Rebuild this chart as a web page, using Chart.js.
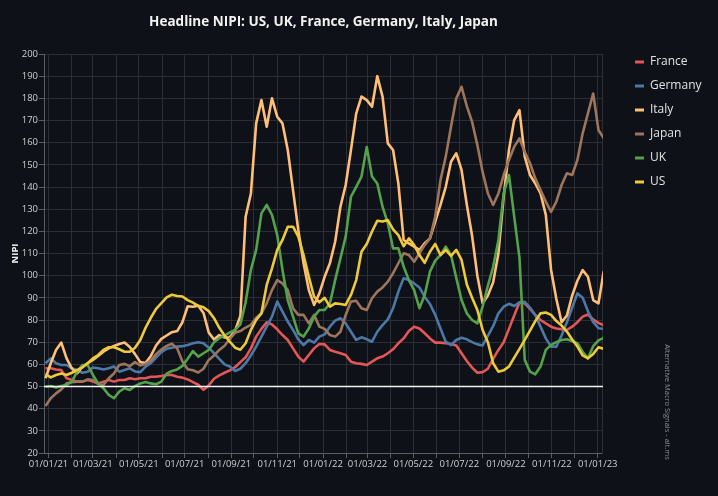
<!DOCTYPE html>
<html>
<head>
<meta charset="utf-8">
<title>Headline NIPI</title>
<script src="https://cdn.jsdelivr.net/npm/chart.js@4.4.1/dist/chart.umd.min.js"></script>
<style>
	html, body { margin: 0; padding: 0; background: #0e1117; }
	#wrap { width: 718px; height: 496px; }
</style>
</head>
<body>
<div id="wrap"><canvas id="nipiChart" width="718" height="496"></canvas></div>
<script>
	// weekly readings, first one on 28/12/20 (day -4 counted from 01/01/21)
	const firstDay = -4;
	const stepDays = 7;

	const seriesNames = ['France', 'Germany', 'Italy', 'Japan', 'UK', 'US'];
	const seriesColors = ['#e45756', '#4c78a8', '#ffbf79', '#9d755d', '#54a24b', '#eeca3b'];

	const france = [
		58.2, 58.2, 57.7, 57.4, 53.7, 52.9, 52.2, 52.2, 52.9, 52.2, 51.4, 52.2, 52.9, 52.2, 52.9, 52.9, 53.7, 53.3, 53.7, 53.7, 54.4, 54.4, 54.7, 55.2, 55.2, 54.4, 54.0, 53.2,
		52.0, 50.8, 48.5, 50.5, 53.5, 55.0, 56.2, 57.3, 58.7, 61.0, 63.2, 67.2, 72.5, 76.0, 79.0, 78.0, 75.8, 73.2, 71.0, 67.2, 63.5, 61.2, 64.2, 67.2, 69.2, 69.0,
		66.5, 65.7, 65.0, 64.2, 61.2, 60.5, 60.2, 59.7, 61.2, 62.7, 63.5, 65.0, 66.8, 69.5, 71.7, 75.0, 77.0, 76.2, 74.0, 71.7, 69.8, 69.8, 69.5, 69.2, 68.5, 65.0, 61.5,
		58.5, 56.2, 56.5, 58.0, 62.5, 66.5, 70.0, 76.0, 82.0, 88.0, 87.5, 85.0, 82.3, 80.0, 78.5, 77.0, 76.2, 75.8, 75.5, 77.0, 79.0, 81.5, 82.5, 80.2, 78.7, 77.6
	];
	const germany = [
		60.5, 62.7, 60.5, 59.7, 59.7, 58.2, 57.4, 56.2, 56.7, 58.6, 58.2, 57.7, 58.2, 59.0, 56.7, 57.4, 58.2, 56.8, 56.5, 59.0, 60.5, 63.0, 65.5, 67.0, 67.5, 68.0, 68.2, 68.7,
		69.5, 70.0, 69.5, 67.5, 65.0, 62.5, 60.0, 59.0, 57.0, 58.0, 60.5, 64.0, 68.0, 72.5, 77.0, 81.5, 88.3, 83.8, 79.3, 75.5, 71.3, 68.7, 71.0, 69.8, 72.5, 73.5,
		77.0, 79.7, 80.8, 78.5, 74.7, 71.0, 72.2, 71.3, 70.2, 74.7, 77.7, 80.3, 85.3, 92.8, 98.8, 98.0, 96.5, 94.7, 90.5, 87.2, 82.3, 76.2, 70.2, 68.7, 71.0, 72.0, 71.3,
		70.0, 69.0, 68.5, 72.8, 77.2, 83.0, 86.0, 87.3, 86.3, 88.0, 88.2, 85.6, 82.2, 77.0, 71.7, 68.0, 68.0, 73.0, 79.0, 85.5, 92.0, 90.0, 84.0, 79.0, 76.3, 76.0
	];
	const italy = [
		53.7, 60.5, 66.5, 69.8, 62.7, 58.2, 55.9, 58.9, 60.5, 62.0, 63.8, 65.7, 67.2, 68.3, 69.2, 69.8, 67.8, 64.6, 61.0, 60.6, 63.8, 68.5, 71.5, 73.0, 74.5, 75.0, 79.0, 86.2,
		86.0, 86.4, 83.2, 74.3, 71.2, 73.2, 72.1, 72.2, 75.2, 81.8, 126.6, 137.1, 168.7, 179.2, 167.2, 180.0, 171.7, 168.7, 156.7, 138.6, 120.6, 105.6, 93.5, 86.8, 92.0, 99.5,
		105.6, 115.3, 131.1, 140.9, 156.7, 173.2, 180.8, 179.2, 176.2, 190.0, 180.8, 159.7, 156.7, 141.6, 116.1, 114.6, 113.1, 111.6, 114.6, 116.8, 124.4, 131.9, 140.1, 151.4, 155.2, 147.7, 132.0,
		118.0, 100.0, 87.5, 91.0, 97.0, 110.0, 135.6, 156.7, 170.2, 174.7, 153.7, 145.4, 141.6, 137.1, 127.4, 102.6, 89.5, 79.0, 82.0, 91.0, 97.7, 102.5, 99.5, 89.0, 87.5, 102.0
	];
	const japan = [
		41.2, 44.7, 46.9, 48.7, 51.4, 51.9, 52.2, 52.2, 53.2, 52.9, 51.1, 50.7, 53.7, 55.9, 59.7, 60.2, 59.2, 61.0, 59.5, 60.2, 61.7, 64.6, 66.7, 68.3, 69.3, 67.2, 61.3, 57.8,
		57.3, 56.3, 58.0, 62.0, 64.0, 66.5, 68.4, 71.4, 74.3, 75.0, 76.6, 77.8, 81.0, 83.0, 87.5, 93.5, 98.0, 96.5, 93.5, 85.3, 82.3, 82.3, 78.5, 82.3, 77.0, 76.0,
		73.2, 72.5, 74.7, 82.3, 88.3, 88.7, 85.3, 84.5, 89.8, 92.8, 94.7, 97.3, 101.1, 105.6, 110.1, 109.3, 106.3, 110.1, 113.8, 116.8, 126.6, 143.1, 153.7, 167.2, 180.0, 185.2, 176.5,
		169.4, 158.9, 146.8, 137.1, 131.9, 137.1, 145.4, 152.2, 158.2, 161.9, 155.9, 150.7, 143.9, 138.6, 133.4, 128.8, 133.4, 140.9, 146.2, 145.4, 152.2, 164.2, 173.2, 182.2, 165.7, 162.0
	];
	const uk = [
		49.9, 50.2, 49.6, 50.2, 50.7, 52.2, 56.7, 59.7, 59.7, 55.2, 51.4, 49.2, 46.2, 44.7, 47.7, 49.2, 48.4, 50.2, 51.4, 52.0, 51.4, 51.0, 52.2, 55.8, 57.0, 57.7, 59.3, 62.5,
		66.0, 63.5, 65.0, 66.5, 70.0, 71.8, 73.0, 74.4, 75.5, 78.0, 88.0, 102.6, 111.6, 128.1, 131.9, 127.4, 118.3, 102.6, 89.0, 81.5, 74.0, 72.5, 76.2, 81.5, 84.5, 84.5,
		87.5, 98.0, 107.8, 117.6, 135.6, 140.1, 144.7, 158.0, 144.7, 141.6, 131.1, 123.6, 112.3, 112.3, 104.1, 98.0, 93.5, 85.3, 91.3, 101.8, 106.8, 109.3, 113.1, 109.3, 99.0, 89.0, 83.0,
		80.0, 78.5, 86.0, 95.5, 104.0, 116.1, 137.1, 145.4, 126.6, 108.0, 62.0, 56.7, 55.5, 59.0, 66.5, 68.8, 70.0, 71.0, 71.3, 70.5, 69.5, 65.7, 62.7, 68.2, 70.8, 72.0
	];
	const us = [
		55.6, 54.1, 55.2, 55.9, 55.2, 56.2, 57.4, 58.6, 60.5, 62.7, 64.2, 66.5, 67.7, 67.7, 66.8, 65.7, 65.7, 67.5, 71.0, 76.5, 81.0, 85.0, 87.6, 90.2, 91.4, 90.8, 90.6, 89.0,
		87.8, 86.4, 85.7, 84.0, 80.8, 76.5, 73.0, 70.2, 67.5, 66.6, 69.5, 75.5, 80.0, 83.0, 95.8, 103.3, 111.6, 116.1, 122.1, 122.1, 117.6, 109.3, 99.5, 90.5, 88.0, 90.0,
		86.0, 87.5, 87.2, 86.8, 91.3, 98.0, 110.8, 114.3, 119.9, 124.8, 124.4, 125.1, 120.9, 118.3, 113.3, 116.8, 113.8, 109.3, 105.8, 110.8, 114.3, 109.3, 111.6, 108.9, 111.6, 107.1, 96.0,
		90.0, 84.5, 75.5, 70.0, 60.5, 56.7, 57.3, 59.0, 63.0, 67.0, 71.0, 75.2, 79.5, 83.0, 83.4, 82.3, 79.5, 77.5, 74.8, 71.2, 68.0, 64.0, 62.7, 64.7, 67.7, 67.0
	];
	const seriesValues = [france, germany, italy, japan, uk, us];

	const threshold = 50;
	const xMin = -6;
	const xMax = 737;
	const yMin = 20;
	const yMax = 200;
	const yStep = 10;

	const gridColor = '#2b2e35';
	const axisColor = '#5b5e66';
	const tickTextColor = '#cfd0d2';

	const epoch = Date.UTC(2021, 0, 1);
	const dayMs = 86400000;
	const monthTicks = [];
	for (let m = 0; m <= 24; m++) {
		monthTicks.push((Date.UTC(2021, m, 1) - epoch) / dayMs);
	}

	function formatDay(day) {
		const d = new Date(epoch + day * dayMs);
		const dd = String(d.getUTCDate()).padStart(2, '0');
		const mm = String(d.getUTCMonth() + 1).padStart(2, '0');
		const yy = String(d.getUTCFullYear()).slice(2);
		return `${dd}/${mm}/${yy}`;
	}

	const weekDays = france.map((_, k) => firstDay + k * stepDays);

	const watermark = {
		id: 'watermark',
		afterDraw(chart) {
			const { ctx, chartArea } = chart;
			ctx.save();
			ctx.translate(chartArea.right + 64, chartArea.bottom - 51);
			ctx.rotate(Math.PI / 2);
			ctx.font = '7.5px "Open Sans", sans-serif';
			ctx.fillStyle = '#8e8f92';
			ctx.textAlign = 'center';
			ctx.textBaseline = 'middle';
			ctx.fillText('Alternative Macro Signals - alt.ms', 0, 0);
			ctx.restore();
		}
	};

	Chart.defaults.font.family = '"Open Sans", "Noto Sans", sans-serif';

	const datasets = seriesNames.map((name, i) => ({
		label: name,
		data: seriesValues[i],
		borderColor: seriesColors[i],
		backgroundColor: seriesColors[i],
		borderWidth: 2.6,
		borderJoinStyle: 'round',
		pointRadius: 0,
		tension: 0,
		order: seriesNames.length - i
	}));
	datasets.push({
		label: 'threshold',
		data: [{ x: xMin, y: threshold }, { x: xMax, y: threshold }],
		borderColor: '#f4f4f4',
		borderWidth: 1.6,
		pointRadius: 0,
		order: 0
	});

	new Chart(document.getElementById('nipiChart'), {
		type: 'line',
		data: {
			labels: weekDays,
			datasets: datasets
		},
		plugins: [watermark],
		options: {
			responsive: false,
			animation: false,
			devicePixelRatio: 1,
			events: [],
			layout: {
				padding: { left: 0, top: 0, bottom: 0, right: 6.5 }
			},
			plugins: {
				title: {
					display: true,
					fullSize: false,
					text: 'Headline NIPI: US, UK, France, Germany, Italy, Japan',
					color: '#f2f2f2',
					font: { size: 13.5, weight: 'bold' },
					padding: { top: 14.5, bottom: 23.3 }
				},
				legend: {
					position: 'right',
					align: 'start',
					title: {
						display: true,
						text: '',
						font: { size: 10 },
						padding: { top: 32, bottom: 0 }
					},
					labels: {
						color: '#e2e3e5',
						font: { size: 12 },
						boxWidth: 9,
						boxHeight: 3,
						padding: 12,
						filter: (item) => item.datasetIndex < seriesNames.length,
						sort: (a, b) => a.datasetIndex - b.datasetIndex,
						generateLabels: (chart) => Chart.defaults.plugins.legend.labels.generateLabels(chart)
							.map((item) => ({ ...item, fillStyle: item.strokeStyle, lineWidth: 0 }))
					}
				},
				tooltip: { enabled: false }
			},
			scales: {
				x: {
					type: 'linear',
					min: xMin,
					max: xMax,
					afterBuildTicks: (scale) => {
						scale.ticks = monthTicks.map((value) => ({ value }));
					},
					afterFit: (scale) => {
						scale.height = 43;
					},
					ticks: {
						autoSkip: false,
						maxRotation: 0,
						color: tickTextColor,
						font: { size: 9.5 },
						padding: 1,
						callback: (value, index) => (index % 2 === 0 ? formatDay(value) : '')
					},
					grid: { color: gridColor, tickColor: axisColor, tickLength: 5 },
					border: { color: axisColor }
				},
				y: {
					min: yMin,
					max: yMax,
					afterFit: (scale) => {
						scale.width = 44;
					},
					ticks: {
						stepSize: yStep,
						color: tickTextColor,
						font: { size: 9.5 },
						padding: 1
					},
					grid: { color: gridColor, tickColor: axisColor, tickLength: 5 },
					border: { color: axisColor },
					title: {
						display: true,
						text: 'NIPI',
						color: '#f2f2f2',
						font: { size: 9.5, weight: 'bold' },
						padding: { top: 10, bottom: 0 }
					}
				},
				gap: {
					axis: 'y',
					position: 'right',
					display: true,
					ticks: { display: false },
					grid: { display: false },
					border: { display: true, color: gridColor },
					afterFit: (scale) => {
						scale.width = 20;
					}
				}
			}
		}
	});
</script>
</body>
</html>
